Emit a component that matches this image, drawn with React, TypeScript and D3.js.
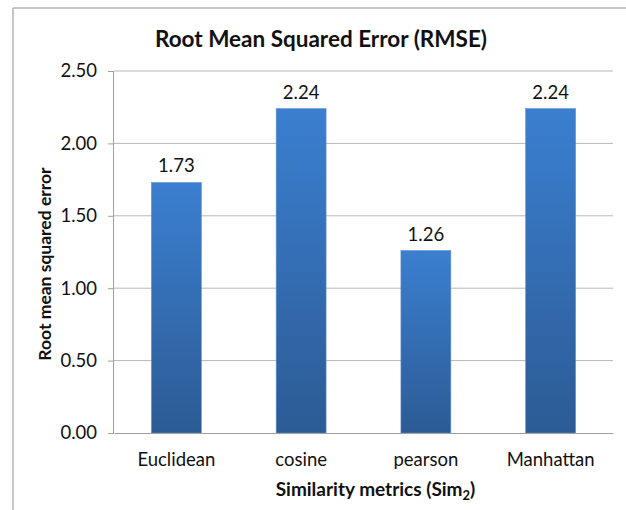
import React, { useEffect, useRef } from 'react';
import * as d3 from 'd3';

const categories = ['Euclidean', 'cosine', 'pearson', 'Manhattan'];
const rmseValues = [1.73, 2.24, 1.26, 2.24];
const yTicks = [0, 0.5, 1, 1.5, 2, 2.5];

const FONT = 'Lato, "Open Sans", sans-serif';

const App = () => {
  const svgRef = useRef<SVGSVGElement>(null);

  useEffect(() => {
    const width = 626;
    const height = 510;
    const margin = { top: 71, right: 13, bottom: 77, left: 114 };
    const innerW = width - margin.left - margin.right;
    const innerH = height - margin.top - margin.bottom;

    const root = d3.select(svgRef.current);
    root.selectAll('*').remove();
    root.attr('width', width).attr('height', height);

    const defs = root.append('defs');
    const grad = defs.append('linearGradient')
      .attr('id', 'barGrad')
      .attr('x1', 0).attr('y1', 0).attr('x2', 0).attr('y2', 1);
    grad.append('stop').attr('offset', '0%').attr('stop-color', '#3b7fd0');
    grad.append('stop').attr('offset', '100%').attr('stop-color', '#2c5b94');

    // chart frame (top and left edges visible)
    root.append('line')
      .attr('x1', 13).attr('y1', 8).attr('x2', width).attr('y2', 8)
      .attr('stroke', '#b5b5b5').attr('stroke-width', 1.5);
    root.append('line')
      .attr('x1', 13).attr('y1', 8).attr('x2', 13).attr('y2', height)
      .attr('stroke', '#b5b5b5').attr('stroke-width', 1.5);

    const svg = root.append('g')
      .attr('transform', `translate(${margin.left},${margin.top})`);

    const x = d3.scaleBand()
      .domain(categories)
      .range([0, innerW])
      .paddingInner(0.6)
      .paddingOuter(0.3);

    const y = d3.scaleLinear().domain([0, 2.5]).range([innerH, 0]);

    // gridlines
    svg.append('g')
      .selectAll('line')
      .data(yTicks.filter(d => d > 0))
      .enter().append('line')
      .attr('x1', 0).attr('x2', innerW)
      .attr('y1', d => y(d)).attr('y2', d => y(d))
      .attr('stroke', '#b8b8b8').attr('stroke-width', 1);

    // bars
    svg.selectAll('rect')
      .data(rmseValues)
      .enter().append('rect')
      .attr('x', (d, i) => x(categories[i])!)
      .attr('y', d => y(d))
      .attr('width', x.bandwidth())
      .attr('height', d => innerH - y(d))
      .attr('fill', 'url(#barGrad)')
      .attr('stroke', '#5a8fd0')
      .attr('stroke-width', 0.6);

    // value labels
    svg.selectAll('.val')
      .data(rmseValues)
      .enter().append('text')
      .attr('class', 'val')
      .attr('x', (d, i) => x(categories[i])! + x.bandwidth() / 2)
      .attr('y', d => y(d) - 10)
      .attr('text-anchor', 'middle')
      .style('font-family', FONT)
      .style('font-size', '18.5px')
      .attr('fill', '#111')
      .text(d => d.toFixed(2));

    // y axis
    const yAxis = svg.append('g')
      .call(d3.axisLeft(y).tickValues(yTicks).tickFormat(d3.format('.2f')).tickSize(6).tickPadding(11));
    yAxis.select('.domain').attr('stroke', '#a0a0a0').attr('d', `M-0.5,${innerH}V0`);
    yAxis.selectAll('.tick line').attr('stroke', '#a0a0a0');
    yAxis.selectAll('text')
      .style('font-family', FONT)
      .style('font-size', '18.5px')
      .attr('fill', '#111');

    // x axis
    const xAxis = svg.append('g')
      .attr('transform', `translate(0,${innerH})`)
      .call(d3.axisBottom(x).tickSize(0).tickPadding(20));
    xAxis.select('.domain').attr('stroke', '#a0a0a0');
    xAxis.selectAll('text')
      .style('font-family', FONT)
      .style('font-size', '18.5px')
      .attr('fill', '#111');

    // title
    root.append('text')
      .attr('x', 321)
      .attr('y', 47)
      .attr('text-anchor', 'middle')
      .style('font-family', FONT)
      .style('font-size', '22.5px')
      .style('font-weight', 'bold')
      .attr('fill', '#111')
      .text('Root Mean Squared Error (RMSE)');

    // x title with subscript
    const xt = root.append('text')
      .attr('x', margin.left + innerW / 2 + 12)
      .attr('y', 496)
      .attr('text-anchor', 'middle')
      .style('font-family', FONT)
      .style('font-size', '19px')
      .style('font-weight', 'bold')
      .attr('fill', '#111');
    xt.append('tspan').text('Similarity metrics (Sim');
    xt.append('tspan').attr('dy', 4).style('font-size', '13px').text('2');
    xt.append('tspan').attr('dy', -4).text(')');

    // y title
    root.append('text')
      .attr('transform', `translate(51,${margin.top + innerH / 2 + 12}) rotate(-90)`)
      .attr('text-anchor', 'middle')
      .style('font-family', FONT)
      .style('font-size', '17.5px')
      .style('font-weight', 'bold')
      .attr('fill', '#111')
      .text('Root mean squared error');
  }, []);

  return <svg ref={svgRef} style={{ position: 'absolute', left: 0, top: 0 }}></svg>;
};

export default App;
